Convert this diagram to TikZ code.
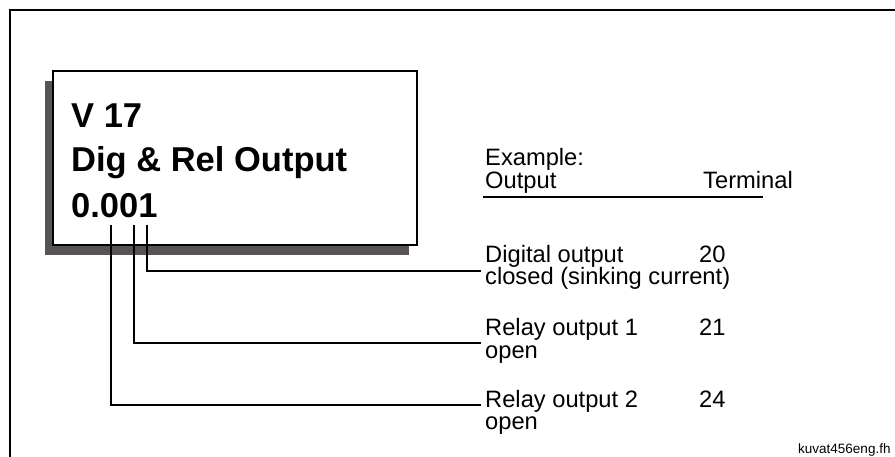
\documentclass[tikz,border=0pt]{standalone}
\usepackage{fontspec}
\setmainfont{Liberation Sans}
\usepackage{xcolor}
\usepackage{tikz}
\usetikzlibrary{positioning, shadows}
\definecolor{shadowgray}{HTML}{595454}

\begin{document}
\begin{tikzpicture}[
    x=1pt, y=-1pt,
    outline/.style={line width=1.4pt},
    display/.style={rectangle, draw, fill=white, line width=1.4pt, minimum width=364pt, minimum height=174pt, inner sep=0pt,
        drop shadow={shadow xshift=-8.5pt, shadow yshift=-10.5pt, fill=shadowgray, opacity=1}},
    big/.style={anchor=base west, inner sep=0pt, font=\fontsize{34.5}{40}\selectfont\bfseries},
    txt/.style={anchor=base west, inner sep=0pt, font=\fontsize{23.7}{28}\selectfont},
    leader/.style={line width=1.3pt}
]
\useasboundingbox (0,0) rectangle (895,457);

\draw[outline] (895,10) -- (10,10) -- (10,457);

% keypad display
\node[display] (screen) at (235,158) {};
\node[big] (par) at (71,128) {V 17};
\node[big] (name) at (71,172) {Dig \& Rel Output};
\node[big] (val) at (71,218) {0.001};

% example table
\node[txt] (ex) at (485,166) {Example:};
\node[txt] (hout) at (485,189) {Output};
\node[txt] (hterm) at (703,189) {Terminal};
\draw[leader] ([xshift=-2pt, yshift=-8pt]hout.base west) -- ++(280,0);

\node[txt] (out1) at (485,263) {Digital output};
\node[txt] (st1) at (485,285) {closed (sinking current)};
\node[txt] (term1) at (699,263) {20};
\node[txt] (out2) at (485,335) {Relay output 1};
\node[txt] (st2) at (485,358) {open};
\node[txt] (term2) at (699,335) {21};
\node[txt] (out3) at (485,407) {Relay output 2};
\node[txt] (st3) at (485,429) {open};
\node[txt] (term3) at (699,407) {24};

% leaders from the digits
\coordinate (d1) at (147,225);
\coordinate (d2) at (134,225);
\coordinate (d3) at (111,225);
\coordinate (e1) at (481,271);
\coordinate (e2) at (481,343);
\coordinate (e3) at (481,405);
\draw[leader] (d1) |- (e1);
\draw[leader] (d2) |- (e2);
\draw[leader] (d3) |- (e3);

\node[anchor=base west, inner sep=0pt, font=\fontsize{13.5}{16}\selectfont] (file) at (798,453) {kuvat456eng.fh};

\end{tikzpicture}
\end{document}
